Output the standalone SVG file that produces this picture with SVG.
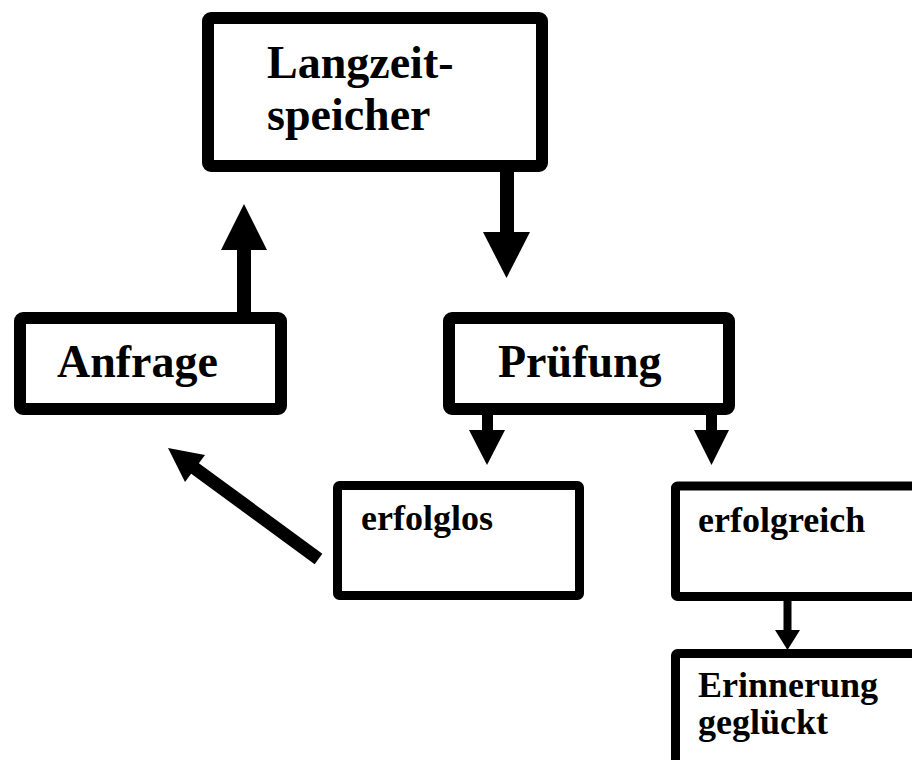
<svg xmlns="http://www.w3.org/2000/svg" width="912" height="760" viewBox="0 0 912 760">
<style>
.box{fill:#fff;stroke:#000;stroke-linejoin:round}
.big{stroke-width:12}
.small{stroke-width:9}
.t{font-family:"Liberation Serif","Times New Roman",serif;font-weight:bold;fill:#000}
.tb{font-size:46px}
.ts{font-size:36px}
.shaft{stroke:#000;fill:none}
.head{fill:#000;stroke:none}
</style>
<rect width="912" height="760" fill="#fff"/>
<g id="langzeitspeicher">
<rect class="box big" x="208" y="18" width="334" height="148" rx="3"/>
<text class="t tb" x="267" y="78">Langzeit-</text>
<text class="t tb" x="267" y="130">speicher</text>
</g>
<g id="anfrage">
<rect class="box big" x="20" y="318" width="261" height="91" rx="3"/>
<text class="t tb" x="57" y="377">Anfrage</text>
</g>
<g id="pruefung">
<rect class="box big" x="449" y="318" width="280" height="91" rx="3"/>
<text class="t tb" x="498" y="377">Prüfung</text>
</g>
<g id="erfolglos">
<rect class="box small" x="337.5" y="485.5" width="242" height="110" rx="2"/>
<text class="t ts" x="361" y="530">erfolglos</text>
</g>
<g id="erfolgreich">
<rect class="box small" x="675.5" y="486" width="260" height="110.5" rx="2"/>
<text class="t ts" x="698" y="532">erfolgreich</text>
</g>
<g id="erinnerung">
<rect class="box small" x="675.5" y="653.5" width="260" height="150" rx="2"/>
<text class="t ts" x="698" y="697">Erinnerung</text>
<text class="t ts" x="698" y="734">geglückt</text>
</g>
<g id="connectors">
<line class="shaft" x1="244" y1="312" x2="244" y2="248" stroke-width="14"/>
<polygon class="head" points="244,204 221,250 267,250"/>
<line class="shaft" x1="507" y1="170" x2="507" y2="234" stroke-width="14"/>
<polygon class="head" points="483,232 530,232 506.5,278"/>
<line class="shaft" x1="487.5" y1="413" x2="487.5" y2="432" stroke-width="11"/>
<polygon class="head" points="469,430 505,430 487,465"/>
<line class="shaft" x1="711.5" y1="413" x2="711.5" y2="432" stroke-width="11"/>
<polygon class="head" points="694,430 729,430 711.5,465"/>
<line class="shaft" x1="787.5" y1="599" x2="787.5" y2="632" stroke-width="8"/>
<polygon class="head" points="775,630 800,630 787.5,650"/>
<line class="shaft" x1="318.5" y1="559" x2="193" y2="467" stroke-width="13"/>
<polygon class="head" points="168,448 205,455 185,482"/>
</g>
</svg>
